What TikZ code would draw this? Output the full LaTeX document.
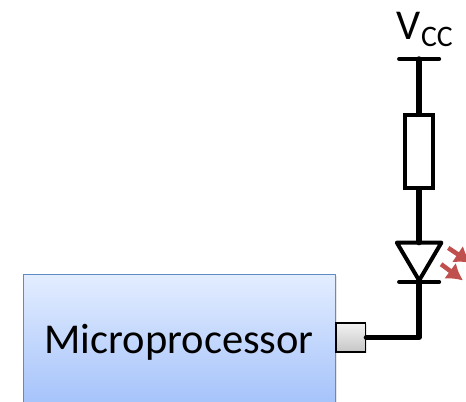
\documentclass[tikz,border=0pt]{standalone}
\usepackage{fontspec}
\setmainfont{Carlito}
\usetikzlibrary{arrows.meta,positioning,shadows}
\definecolor{ledred}{HTML}{C0504D}
\definecolor{mcuedge}{HTML}{5F8CC4}
\definecolor{mcutop}{HTML}{E3EDFF}
\definecolor{mcubottom}{HTML}{A0BFFA}
\tikzstyle{mcu} = [rectangle, minimum width=8.25cm, minimum height=3.7cm, anchor=north west, draw=mcuedge, line width=0.9pt, top color=mcutop, bottom color=mcubottom, drop shadow={opacity=0.2,shadow xshift=0.3mm,shadow yshift=-0.3mm}]
\tikzstyle{pad} = [rectangle, minimum width=0.79cm, minimum height=0.77cm, draw=black, line width=1.2pt, top color=gray!10, bottom color=gray!45, drop shadow={opacity=0.2,shadow xshift=0.3mm,shadow yshift=-0.3mm}]
\tikzstyle{resistor} = [rectangle, minimum width=0.74cm, minimum height=1.93cm, draw=black, line width=3pt, fill=white]
\tikzstyle{wire} = [line width=4pt, line cap=round, line join=round]
\tikzstyle{bar} = [line width=3pt, line cap=round]
\begin{document}
\begin{tikzpicture}[font=\fontsize{32}{36}\selectfont]
    \tikzset{ledptr/.style={line width=3.4pt, color=ledred, -{Latex[length=12pt,width=15pt]}}}
    \useasboundingbox (0,0) rectangle (12.33,10.61);
    \clip (0,0) rectangle (12.33,10.61);

    \node (proc) [mcu] at (0.61,3.36) {};
    \node (proc_text) at (4.74,1.56) {Microprocessor};
    \node (gpio) [pad, right=-0.03cm of proc.east |- proc_text, yshift=0.12cm] {};

    \coordinate (rail_left) at (10.56,9.05);
    \coordinate (rail_right) at (11.62,9.05);
    \coordinate (rail_mid) at (11.09,9.05);
    \node (vcc) at (11.25,9.83) {V\textsubscript{CC}};
    \node (res) [resistor] at (11.09,6.61) {};

    \coordinate (led_left) at (10.50,4.19);
    \coordinate (led_right) at (11.68,4.19);
    \coordinate (led_top) at (11.09,4.19);
    \coordinate (led_tip) at (11.09,3.19);
    \coordinate (bar_left) at (10.56,3.15);
    \coordinate (bar_right) at (11.62,3.15);

    \coordinate (ray1_start) at (11.86,4.05);
    \coordinate (ray1_end) at (12.46,3.65);
    \coordinate (ray2_start) at (11.67,3.62);
    \coordinate (ray2_end) at (12.25,3.19);

    \draw[bar] (rail_left) -- (rail_right);
    \draw[wire] (rail_mid) -- (res.north);
    \draw[wire] (res.south) -- (led_top);
    \draw[bar, line join=round] (led_left) -- (led_right) -- (led_tip) -- cycle;
    \draw[bar] (bar_left) -- (bar_right);
    \draw[wire] (led_tip) |- (gpio.east);

    \draw[ledptr] (ray1_start) -- (ray1_end);
    \draw[ledptr] (ray2_start) -- (ray2_end);
  \end{tikzpicture}
\end{document}
